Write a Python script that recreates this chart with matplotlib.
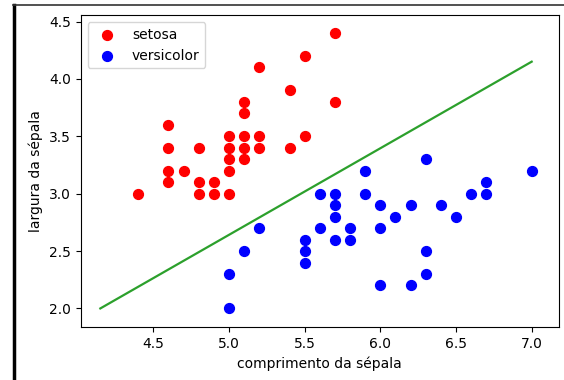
import matplotlib
matplotlib.use("Agg")
import matplotlib.pyplot as plt
from matplotlib.lines import Line2D

# pontos (comprimento, largura da sépala)
setosa_x = [5.5, 5.2, 5.4, 5.1, 5.1, 4.6, 5.0, 5.1, 5.2, 5.5,
            4.6, 4.8, 5.0, 5.1, 5.2, 5.4, 5.0, 5.1, 4.6, 4.7,
            5.0, 4.6, 4.8, 4.9, 4.4, 4.8, 4.9, 5.0, 5.7, 5.7]
setosa_y = [4.2, 4.1, 3.9, 3.8, 3.7, 3.6, 3.5, 3.5, 3.5, 3.5,
            3.4, 3.4, 3.4, 3.4, 3.4, 3.4, 3.3, 3.3, 3.2, 3.2,
            3.2, 3.1, 3.1, 3.1, 3.0, 3.0, 3.0, 3.0, 4.4, 3.8]

versicolor_x = [5.9, 5.6, 5.7, 5.9, 5.7, 6.0, 5.7, 6.1, 5.2, 5.6,
                5.8, 6.0, 5.5, 5.7, 5.8, 5.1, 5.5, 5.5, 5.0, 6.0,
                5.0, 6.3, 7.0, 6.7, 6.6, 6.7, 6.2, 6.4, 6.5, 6.3,
                6.3, 6.2]
versicolor_y = [3.2, 3.0, 3.0, 3.0, 2.9, 2.9, 2.8, 2.8, 2.7, 2.7,
                2.7, 2.7, 2.6, 2.6, 2.6, 2.5, 2.5, 2.4, 2.3, 2.2,
                2.0, 3.3, 3.2, 3.1, 3.0, 3.0, 2.9, 2.9, 2.8, 2.5,
                2.3, 2.2]

# fronteira de decisao
linha_x = [4.15, 7.0]
linha_y = [2.0, 4.15]

fig = plt.figure(figsize=(5.64, 3.8), dpi=100)
ax = fig.add_axes([0.143, 0.14, 0.848, 0.82])

ax.scatter(setosa_x, setosa_y, color='red', s=50, label='setosa')
ax.scatter(versicolor_x, versicolor_y, color='blue', s=50, label='versicolor')
ax.plot(linha_x, linha_y, color='#2ca02c', linewidth=1.6)

ax.set_xlim(4.02, 7.18)
ax.set_ylim(1.84, 4.555)
ax.set_xlabel('comprimento da sépala')
ax.set_ylabel('largura da sépala')
ax.legend(loc='upper left')

# bordas da captura de tela
fig.add_artist(Line2D([0.025, 0.025], [0.0, 0.987], color='black', linewidth=2.5))
fig.add_artist(Line2D([0.023, 1.0], [0.987, 0.987], color='#333333', linewidth=1.2))

plt.savefig('out.png', dpi=100)
